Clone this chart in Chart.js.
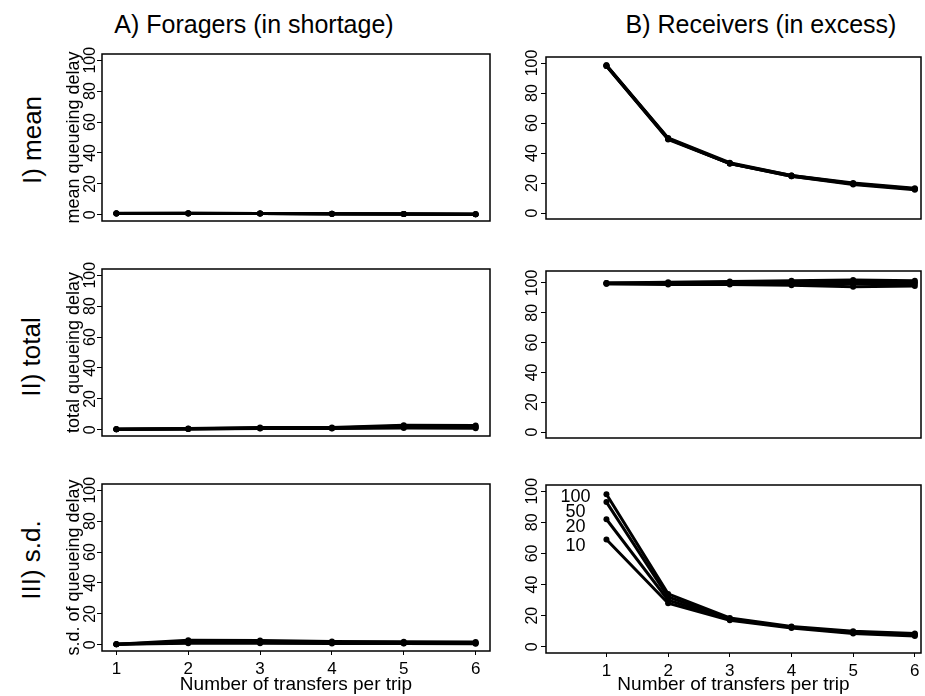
<!DOCTYPE html>
<html>
<head>
<meta charset="utf-8">
<script src="https://cdn.jsdelivr.net/npm/chart.js@4/dist/chart.umd.min.js"></script>
<style>
  body { margin: 0; background: #fff; font-family: "Liberation Sans", Arial, sans-serif; color: #000; }
  #wrap { position: relative; width: 925px; height: 696px; overflow: hidden; }
  canvas { position: absolute; }
  .col { position: absolute; font-size: 25px; transform: translate(-50%, -50%); white-space: nowrap; }
  .row { position: absolute; font-size: 26px; transform: translate(-50%, -50%) rotate(-90deg); white-space: nowrap; }
</style>
</head>
<body>
<div id="wrap">
  <div class="col" style="left:254px; top:24px">A) Foragers (in shortage)</div>
  <div class="col" style="left:761px; top:24px">B) Receivers (in excess)</div>
  <div class="row" style="left:32px; top:140px">I) mean</div>
  <div class="row" style="left:31px; top:357px">II) total</div>
  <div class="row" style="left:31px; top:560px">III) s.d.</div>
  <canvas id="meanA" width="450" height="190" style="left:50px; top:40px"></canvas>
  <canvas id="meanB" width="425" height="190" style="left:500px; top:40px"></canvas>
  <canvas id="totalA" width="450" height="200" style="left:50px; top:250px"></canvas>
  <canvas id="totalB" width="425" height="200" style="left:500px; top:250px"></canvas>
  <canvas id="sdA" width="450" height="226" style="left:50px; top:470px"></canvas>
  <canvas id="sdB" width="425" height="226" style="left:500px; top:470px"></canvas>
</div>
<script>
const transfers = [1, 2, 3, 4, 5, 6];
const groupSizes = [10, 20, 50, 100];
const yTicks = [0, 20, 40, 60, 80, 100];

// one row per group size: 10, 20, 50, 100
const meanForagers = [
  [1.0, 1.0, 0.9, 0.7, 0.6, 0.4],
  [0.9, 1.0, 0.9, 0.7, 0.6, 0.4],
  [0.9, 0.9, 0.8, 0.7, 0.5, 0.4],
  [0.8, 0.9, 0.8, 0.6, 0.5, 0.3]
];
const meanReceivers = [
  [98, 49, 33, 24.5, 19, 15.5],
  [98, 49.5, 33, 24.5, 19.5, 16],
  [98.5, 49.5, 33, 25, 19.5, 16],
  [98.5, 50, 33.5, 25, 20, 16.5]
];
const totalForagers = [
  [0.3, 0.5, 0.8, 0.8, 1.2, 1.0],
  [0.3, 0.6, 1.0, 1.0, 1.8, 1.5],
  [0.3, 0.7, 1.2, 1.2, 2.5, 2.2],
  [0.3, 0.8, 1.5, 1.5, 3.0, 2.8]
];
const totalReceivers = [
  [99.5, 99, 99, 98.5, 97.5, 98],
  [99.5, 99.5, 99.5, 99.5, 99.5, 99.5],
  [100, 100, 100, 100.5, 100.5, 100.5],
  [100, 100.5, 101, 101.5, 102, 101.5]
];
const sdForagers = [
  [0.3, 1.0, 1.0, 0.8, 0.8, 0.7],
  [0.3, 1.5, 1.5, 1.2, 1.0, 1.0],
  [0.3, 2.2, 2.0, 1.6, 1.5, 1.3],
  [0.3, 3.0, 2.8, 2.2, 2.0, 1.8]
];
const sdReceivers = [
  [69, 28, 17, 12, 8.5, 7],
  [82, 30, 17.5, 12.5, 9, 7.5],
  [93, 32, 18, 12.5, 9.5, 8],
  [98, 34, 18.5, 13, 10, 8.5]
];

const FONT = '"Liberation Sans", Arial, sans-serif';

const boxPlugin = {
  id: 'box',
  afterDatasetsDraw(chart) {
    const { ctx, chartArea: a } = chart;
    ctx.save();
    ctx.strokeStyle = '#000';
    ctx.lineWidth = 1.5;
    ctx.strokeRect(a.left, a.top, a.right - a.left, a.bottom - a.top);
    ctx.restore();
  }
};

// group size labels next to the first points of the s.d. receivers panel
const groupLabelPlugin = {
  id: 'groupLabels',
  afterDatasetsDraw(chart) {
    const { ctx, scales } = chart;
    const order = [100, 50, 20, 10];
    const at = [96, 86.5, 77, 65];
    ctx.save();
    ctx.fillStyle = '#000';
    ctx.font = '18px ' + FONT;
    ctx.textAlign = 'center';
    ctx.textBaseline = 'middle';
    order.forEach((g, i) => {
      ctx.fillText(String(g), scales.x.getPixelForValue(0.5), scales.y.getPixelForValue(at[i]));
    });
    ctx.restore();
  }
};

function makePanel(id, series, o) {
  const datasets = series.map((vals, i) => ({
    label: 'n = ' + groupSizes[i],
    data: transfers.map((t, j) => ({ x: t, y: vals[j] })),
    borderColor: '#000',
    backgroundColor: '#000',
    borderWidth: 3,
    pointRadius: 3,
    pointBackgroundColor: '#000',
    pointBorderWidth: 0,
    tension: 0
  }));

  new Chart(document.getElementById(id), {
    type: 'line',
    data: { datasets },
    plugins: o.plugins || [boxPlugin],
    options: {
      responsive: false,
      animation: false,
      events: [],
      layout: { padding: { top: o.padTop, bottom: o.padBottom, left: 0, right: o.padRight } },
      plugins: { legend: { display: false }, tooltip: { enabled: false } },
      scales: {
        x: {
          type: 'linear',
          min: o.xMin, max: o.xMax,
          afterBuildTicks: s => { s.ticks = transfers.map(v => ({ value: v })); },
          afterFit: s => { s.height = o.xHeight; },
          border: { display: false },
          grid: { display: o.bottom, drawOnChartArea: false, drawTicks: true, tickLength: 4, color: '#000' },
          ticks: { display: o.bottom, padding: 4, maxRotation: 0, autoSkip: false, color: '#000', font: { family: FONT, size: 17 } },
          title: { display: o.bottom, text: 'Number of transfers per trip', color: '#000',
                   font: { family: FONT, size: 19 }, padding: { top: 0, bottom: 0 } }
        },
        y: {
          type: 'linear',
          min: o.yMin, max: o.yMax,
          afterBuildTicks: s => { s.ticks = yTicks.map(v => ({ value: v })); },
          afterFit: s => { s.width = o.yWidth; },
          border: { display: false },
          grid: { drawOnChartArea: false, drawTicks: true, tickLength: 5, color: '#000' },
          ticks: { minRotation: 90, maxRotation: 90, crossAlign: 'center', autoSkip: false,
                   padding: o.tickPad, color: '#000', font: { family: FONT, size: 16 } },
          title: { display: !!o.yTitle, text: o.yTitle || '', color: '#000',
                   font: { family: FONT, size: 18 }, padding: { top: 13, bottom: 0 } }
        }
      }
    }
  });
}

const leftCol = { xMin: 0.8, xMax: 6.2, yWidth: 52, padRight: 10, tickPad: -6.5 };
const rightCol = { xMin: 0.02, xMax: 6.1, yWidth: 46, padRight: 1, tickPad: -4.5 };

makePanel('meanA', meanForagers, { ...leftCol, yMin: -4, yMax: 104, padTop: 14, padBottom: 9, xHeight: 0, bottom: false, yTitle: 'mean queueing delay' });
makePanel('meanB', meanReceivers, { ...rightCol, yMin: -4, yMax: 104, padTop: 17, padBottom: 11, xHeight: 0, bottom: false });
makePanel('totalA', totalForagers, { ...leftCol, yMin: -4, yMax: 104, padTop: 19, padBottom: 14, xHeight: 0, bottom: false, yTitle: 'total queueing delay' });
makePanel('totalB', totalReceivers, { ...rightCol, yMin: -4, yMax: 108, padTop: 21, padBottom: 12, xHeight: 0, bottom: false });
makePanel('sdA', sdForagers, { ...leftCol, yMin: -4, yMax: 104, padTop: 14, padBottom: 0, xHeight: 45, bottom: true, yTitle: 's.d. of queueing delay' });
makePanel('sdB', sdReceivers, { ...rightCol, yMin: -4, yMax: 104, padTop: 15, padBottom: 0, xHeight: 43, bottom: true,
  plugins: [boxPlugin, groupLabelPlugin] });
</script>
</body>
</html>
